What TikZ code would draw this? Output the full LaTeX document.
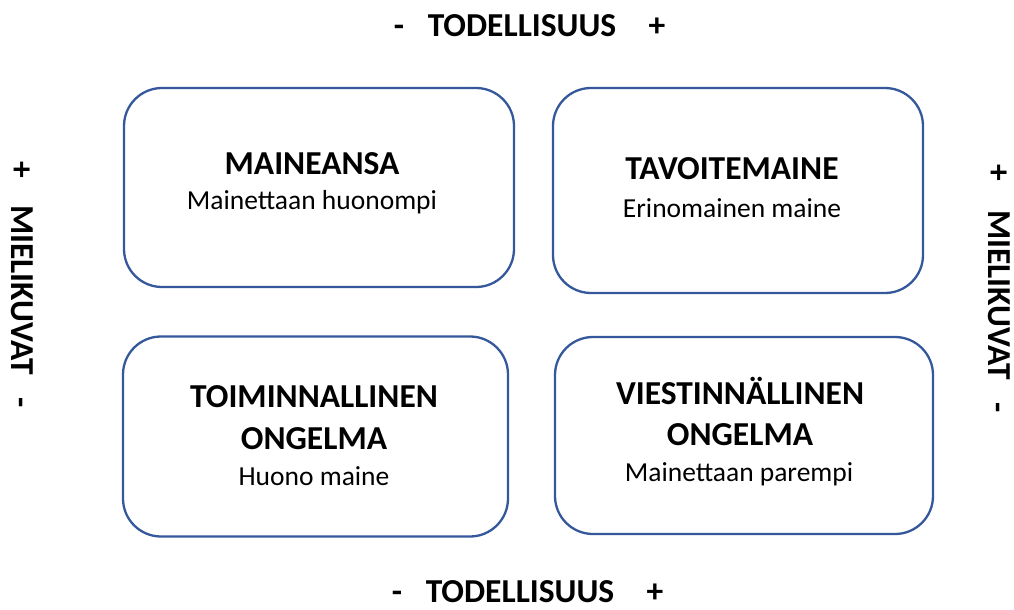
\documentclass[tikz,border=0pt]{standalone}
\usepackage{fontspec}
\setmainfont{Carlito}
\begin{document}
\begin{tikzpicture}[x=1pt,y=-1pt,
  quad/.style={draw=boxblue,line width=2.3pt,rounded corners=38pt,fill=white,inner sep=0pt},
  head/.style={anchor=base,font=\fontsize{33.5}{40}\selectfont\bfseries,inner sep=0pt},
  sub/.style={anchor=base,font=\fontsize{27.5}{33}\selectfont,inner sep=0pt},
  axis/.style={anchor=base,font=\fontsize{33.5}{40}\selectfont\bfseries,inner sep=0pt},
  sideaxis/.style={axis,rotate=-90}]
\definecolor{boxblue}{RGB}{52,88,155}
\useasboundingbox (0,0) rectangle (1014,610);

% four quadrant boxes
\node[quad,minimum width=390pt,minimum height=199pt] (trap) at (319,187.5) {};
\node[quad,minimum width=370pt,minimum height=205pt] (goal) at (738,190.5) {};
\node[quad,minimum width=385pt,minimum height=200pt] (oper) at (315.5,436.5) {};
\node[quad,minimum width=378pt,minimum height=197pt] (comm) at (744,435.5) {};

% box texts
\node[head] (trapT) at (312,174) {MAINEANSA};
\node[sub]  (trapS) at (312,209) {Mainettaan huonompi};
\node[head] (goalT) at (732,179) {TAVOITEMAINE};
\node[sub]  (goalS) at (732,217) {Erinomainen maine};
\node[head] (operT1) at (314,407) {TOIMINNALLINEN};
\node[head] (operT2) at (314,449) {ONGELMA};
\node[sub]  (operS) at (314,485) {Huono maine};
\node[head] (commT1) at (740,404) {VIESTINNÄLLINEN};
\node[head] (commT2) at (740,445) {ONGELMA};
\node[sub]  (commS) at (739,481) {Mainettaan parempi};

% horizontal axis labels
\node[axis] (topMinus) at (399,37) {-};
\node[axis] (topLabel) at (522,37) {TODELLISUUS};
\node[axis] (topPlus)  at (657,37) {+};
\node[axis] (botMinus) at (397,602) {-};
\node[axis] (botLabel) at (520,602) {TODELLISUUS};
\node[axis] (botPlus)  at (655,602) {+};

% vertical axis labels
\node[sideaxis] (lPlus)  at (12,170) {+};
\node[sideaxis] (lLabel) at (12,290) {MIELIKUVAT};
\node[sideaxis] (lMinus) at (12,403) {-};
\node[sideaxis] (rPlus)  at (988,173) {+};
\node[sideaxis] (rLabel) at (988,295) {MIELIKUVAT};
\node[sideaxis] (rMinus) at (988,408) {-};
\end{tikzpicture}
\end{document}
